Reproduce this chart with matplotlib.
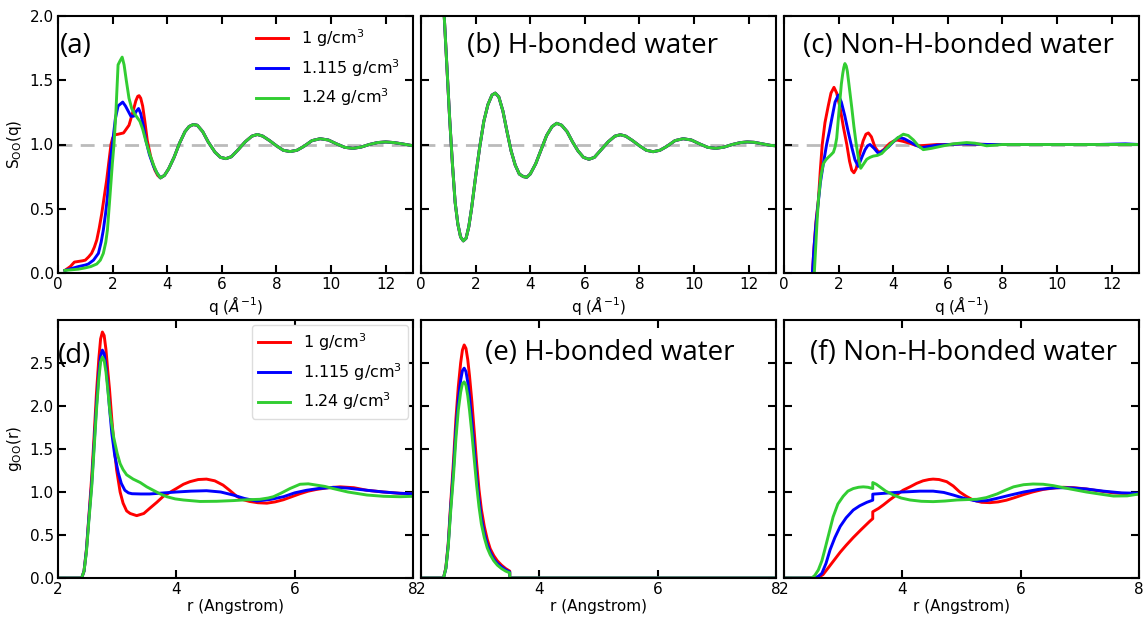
import numpy as np
import matplotlib
matplotlib.use("Agg")
import matplotlib.pyplot as plt

# ---- data ----
labels = ["1 g/cm$^3$", "1.115 g/cm$^3$", "1.24 g/cm$^3$"]
colors = ["red", "blue", "limegreen"]

# (a) total S_OO(q): low-q parts differ, common tail from q = 3.75
a_tail_q = [3.75, 3.9, 4.05, 4.25, 4.45, 4.65, 4.8, 4.95, 5.1, 5.3, 5.5, 5.75, 5.95, 6.15, 6.35,
            6.6, 6.85, 7.1, 7.3, 7.5, 7.75, 8.0, 8.25, 8.5, 8.75, 9.0, 9.3, 9.6, 9.9, 10.2,
            10.5, 10.8, 11.1, 11.4, 11.7, 12.0, 12.3, 12.6, 13.0]
a_tail_s = [0.74, 0.76, 0.81, 0.9, 1.01, 1.1, 1.14, 1.155, 1.15, 1.1, 1.02, 0.94, 0.9, 0.89, 0.905,
            0.96, 1.02, 1.065, 1.078, 1.065, 1.03, 0.99, 0.955, 0.945, 0.955, 0.985, 1.03, 1.045, 1.035, 1.005,
            0.978, 0.97, 0.98, 1.0, 1.015, 1.02, 1.015, 1.005, 0.99]
a_red_q = [0.25, 0.45, 0.6, 0.75, 0.9, 1.0, 1.12, 1.23, 1.33, 1.42, 1.51, 1.6, 1.69, 1.78, 1.86,
           1.94, 2.0, 2.07, 2.2, 2.4, 2.6, 2.75, 2.85, 2.92, 2.97, 3.03, 3.1, 3.18, 3.27, 3.4,
           3.55, 3.65]
a_red_s = [0.02, 0.05, 0.085, 0.09, 0.095, 0.1, 0.125, 0.153, 0.2, 0.257, 0.35, 0.46, 0.59, 0.72, 0.86,
           1.0, 1.05, 1.075, 1.08, 1.09, 1.15, 1.26, 1.34, 1.375, 1.38, 1.36, 1.3, 1.18, 1.03, 0.9,
           0.8, 0.76]
a_blue_q = [0.25, 0.5, 0.75, 1.0, 1.11, 1.3, 1.48, 1.58, 1.66, 1.74, 1.81, 1.9, 1.99, 2.1, 2.2,
            2.37, 2.47, 2.57, 2.67, 2.77, 2.87, 2.95, 3.03, 3.12, 3.22, 3.35, 3.5, 3.62]
a_blue_s = [0.02, 0.035, 0.05, 0.062, 0.07, 0.1, 0.153, 0.24, 0.335, 0.46, 0.59, 0.85, 1.0, 1.2, 1.3,
            1.33, 1.3, 1.26, 1.22, 1.22, 1.26, 1.28, 1.24, 1.15, 1.03, 0.92, 0.83, 0.78]
a_green_q = [0.25, 0.5, 0.75, 1.0, 1.2, 1.42, 1.55, 1.66, 1.75, 1.81, 1.9, 1.99, 2.05, 2.12, 2.2,
             2.27, 2.35, 2.42, 2.5, 2.6, 2.7, 2.8, 2.9, 3.0, 3.1, 3.2, 3.35, 3.5, 3.62]
a_green_s = [0.02, 0.025, 0.03, 0.04, 0.05, 0.07, 0.1, 0.153, 0.24, 0.335, 0.59, 0.85, 1.0, 1.25, 1.62,
             1.65, 1.68, 1.62, 1.5, 1.36, 1.28, 1.24, 1.21, 1.18, 1.12, 1.04, 0.93, 0.84, 0.78]

# (b) H-bonded S_OO(q): the three densities lie on top of each other
b_q = [0.75, 0.85, 0.95, 1.05, 1.15, 1.25, 1.35, 1.45, 1.55, 1.65, 1.75, 1.85, 2.0, 2.15, 2.3,
       2.45, 2.6, 2.72, 2.85, 3.0, 3.15, 3.3, 3.45, 3.6, 3.75, 3.87, 4.0, 4.2, 4.4, 4.6,
       4.8, 4.97, 5.15, 5.35, 5.55, 5.75, 5.95, 6.15, 6.35, 6.6, 6.85, 7.1, 7.3, 7.5, 7.75,
       8.0, 8.25, 8.5, 8.75, 9.0, 9.3, 9.6, 9.9, 10.2, 10.5, 10.8, 11.1, 11.4, 11.7, 11.95,
       12.2, 12.5, 12.8, 13.0]
b_s = [2.4, 2.0, 1.6, 1.2, 0.85, 0.55, 0.38, 0.28, 0.25, 0.27, 0.36, 0.5, 0.75, 0.98, 1.18,
       1.31, 1.385, 1.4, 1.37, 1.26, 1.1, 0.95, 0.84, 0.77, 0.75, 0.745, 0.77, 0.85, 0.96, 1.07,
       1.14, 1.165, 1.15, 1.1, 1.02, 0.95, 0.9, 0.885, 0.9, 0.96, 1.02, 1.065, 1.076, 1.065, 1.03,
       0.99, 0.955, 0.944, 0.955, 0.985, 1.03, 1.045, 1.035, 1.005, 0.978, 0.97, 0.98, 1.0, 1.015, 1.02,
       1.017, 1.005, 0.993, 0.99]

# (c) non-H-bonded S_OO(q)
c_red_q = [1.04, 1.1, 1.17, 1.26, 1.33, 1.4, 1.5, 1.62, 1.72, 1.83, 1.93, 2.05, 2.18, 2.3, 2.4,
           2.48, 2.56, 2.64, 2.72, 2.81, 2.9, 3.0, 3.09, 3.2, 3.33, 3.43, 3.52, 3.65, 3.78, 3.88,
           4.0, 4.13, 4.35, 4.6, 4.8, 4.98, 5.3, 5.6, 6.0, 6.6, 7.5, 8.5, 9.5, 10.5, 11.5, 12.5, 13.0]
c_red_s = [0.0, 0.2, 0.4, 0.57, 0.8, 1.0, 1.17, 1.3, 1.4, 1.445, 1.4, 1.29, 1.13, 1.0, 0.87,
           0.8, 0.78, 0.81, 0.88, 0.96, 1.03, 1.08, 1.09, 1.06, 0.98, 0.95, 0.94, 0.96, 0.99, 1.01,
           1.025, 1.035, 1.025, 1.01, 0.995, 0.99, 0.995, 1.0, 1.0, 1.005, 1.0, 1.0, 1.0, 1.0, 1.0, 1.0, 1.0]
c_blue_q = [1.04, 1.1, 1.17, 1.23, 1.33, 1.44, 1.56, 1.66, 1.75, 1.87, 1.99, 2.1, 2.23, 2.35, 2.48,
            2.6, 2.72, 2.85, 2.97, 3.06, 3.15, 3.3, 3.46, 3.62, 3.82, 4.0, 4.19, 4.4, 4.62, 4.82,
            5.04, 5.3, 5.6, 6.0, 6.6, 7.5, 8.5, 9.5, 10.5, 11.5, 12.5, 13.0]
c_blue_s = [0.0, 0.2, 0.38, 0.5, 0.7, 0.85, 1.0, 1.1, 1.2, 1.33, 1.385, 1.33, 1.22, 1.1, 0.98,
            0.88, 0.83, 0.9, 0.96, 0.99, 1.0, 0.97, 0.93, 0.95, 0.98, 1.02, 1.055, 1.045, 1.02, 0.995,
            0.975, 0.985, 0.995, 1.0, 1.005, 1.0, 1.0, 1.0, 1.0, 1.0, 1.005, 1.0]
c_green_q = [1.11, 1.16, 1.21, 1.26, 1.35, 1.44, 1.53, 1.62, 1.72, 1.81, 1.87, 1.93, 1.99, 2.05, 2.1,
             2.15, 2.19, 2.23, 2.28, 2.32, 2.4, 2.48, 2.56, 2.64, 2.72, 2.81, 2.92, 3.03, 3.15, 3.27,
             3.42, 3.58, 3.76, 3.94, 4.15, 4.37, 4.55, 4.74, 4.92, 5.1, 5.4, 5.84, 6.2, 6.69, 7.0,
             7.42, 8.0, 9.0, 10.0, 11.0, 12.0, 13.0]
c_green_s = [0.0, 0.2, 0.4, 0.57, 0.75, 0.85, 0.88, 0.9, 0.92, 0.94, 0.98, 1.05, 1.2, 1.35, 1.47,
             1.55, 1.6, 1.63, 1.61, 1.57, 1.43, 1.29, 1.14, 1.01, 0.9, 0.815, 0.85, 0.885, 0.9, 0.91,
             0.915, 0.93, 0.97, 1.01, 1.05, 1.08, 1.07, 1.035, 0.99, 0.96, 0.97, 0.99, 1.005, 1.015, 1.01,
             0.99, 1.0, 1.0, 1.0, 1.0, 1.0, 1.0]

# (d) total g_OO(r)
d_red_r = [2.0, 2.4, 2.44, 2.48, 2.52, 2.57, 2.61, 2.65, 2.69, 2.72, 2.75, 2.78, 2.81, 2.84, 2.87,
           2.91, 2.95, 2.99, 3.05, 3.1, 3.16, 3.22, 3.33, 3.45, 3.55, 3.67, 3.78, 3.9, 4.0, 4.12,
           4.23, 4.37, 4.51, 4.65, 4.79, 4.9, 5.02, 5.13, 5.24, 5.38, 5.53, 5.67, 5.81, 5.95, 6.09,
           6.23, 6.37, 6.57, 6.77, 7.0, 7.22, 7.5, 7.78, 8.0]
d_red_g = [0, 0, 0.08, 0.33, 0.7, 1.18, 1.65, 2.15, 2.55, 2.78, 2.86, 2.82, 2.66, 2.42, 2.2,
           1.84, 1.53, 1.26, 1.0, 0.87, 0.78, 0.75, 0.725, 0.75, 0.81, 0.88, 0.95, 1.0, 1.04, 1.09,
           1.12, 1.145, 1.15, 1.13, 1.08, 1.02, 0.95, 0.91, 0.89, 0.875, 0.87, 0.885, 0.91, 0.945, 0.98,
           1.01, 1.03, 1.05, 1.06, 1.05, 1.02, 1.0, 0.985, 0.98]
d_blue_r = [2.0, 2.4, 2.44, 2.48, 2.52, 2.57, 2.61, 2.65, 2.69, 2.72, 2.75, 2.78, 2.81, 2.84, 2.87,
            2.91, 2.96, 3.02, 3.07, 3.13, 3.19, 3.25, 3.4, 3.55, 3.8, 4.0, 4.25, 4.51, 4.75, 4.96,
            5.15, 5.36, 5.6, 5.81, 6.0, 6.2, 6.4, 6.65, 6.9, 7.22, 7.5, 7.78, 8.0]
d_blue_g = [0, 0, 0.08, 0.32, 0.68, 1.1, 1.55, 2.0, 2.38, 2.58, 2.65, 2.61, 2.46, 2.24, 1.98,
            1.68, 1.42, 1.22, 1.1, 1.02, 0.99, 0.98, 0.977, 0.977, 0.99, 1.0, 1.01, 1.015, 1.0, 0.965,
            0.925, 0.895, 0.915, 0.945, 0.99, 1.02, 1.04, 1.054, 1.045, 1.02, 1.0, 0.985, 0.98]
d_green_r = [2.0, 2.4, 2.44, 2.48, 2.52, 2.57, 2.61, 2.65, 2.69, 2.72, 2.75, 2.78, 2.81, 2.84, 2.88,
             2.94, 3.0, 3.05, 3.1, 3.16, 3.27, 3.39, 3.5, 3.61, 3.72, 3.84, 3.98, 4.12, 4.4, 4.68,
             4.96, 5.2, 5.41, 5.55, 5.64, 5.78, 5.92, 6.09, 6.23, 6.37, 6.51, 6.65, 6.9, 7.22, 7.5,
             7.78, 8.0]
d_green_g = [0, 0, 0.08, 0.3, 0.65, 1.06, 1.5, 1.95, 2.32, 2.51, 2.57, 2.53, 2.4, 2.2, 1.92,
             1.64, 1.45, 1.33, 1.26, 1.2, 1.15, 1.11, 1.06, 1.02, 0.98, 0.945, 0.92, 0.907, 0.89, 0.892,
             0.9, 0.91, 0.915, 0.93, 0.945, 0.99, 1.04, 1.09, 1.095, 1.08, 1.065, 1.04, 1.0, 0.965, 0.95,
             0.945, 0.95]

# (e) H-bonded g_OO(r), cut at r = 3.5
e_r = [2.0, 2.38, 2.42, 2.46, 2.5, 2.55, 2.59, 2.63, 2.67, 2.7, 2.73, 2.76, 2.79, 2.82, 2.86,
       2.9, 2.94, 2.98, 3.02, 3.07, 3.12, 3.17, 3.23, 3.29, 3.36, 3.43, 3.5, 3.5, 8.0]
e_red_g = [0, 0, 0.12, 0.4, 0.85, 1.37, 1.85, 2.22, 2.5, 2.65, 2.71, 2.67, 2.54, 2.35, 2.05,
           1.7, 1.34, 1.03, 0.8, 0.6, 0.45, 0.34, 0.26, 0.2, 0.15, 0.11, 0.08, 0, 0]
e_blue_g = [0, 0, 0.11, 0.38, 0.8, 1.28, 1.72, 2.07, 2.3, 2.41, 2.44, 2.4, 2.28, 2.1, 1.82,
            1.5, 1.18, 0.91, 0.7, 0.52, 0.39, 0.3, 0.22, 0.17, 0.13, 0.095, 0.07, 0, 0]
e_green_g = [0, 0, 0.11, 0.36, 0.76, 1.2, 1.62, 1.95, 2.16, 2.26, 2.28, 2.24, 2.12, 1.95, 1.68,
             1.38, 1.08, 0.83, 0.63, 0.47, 0.35, 0.27, 0.2, 0.15, 0.11, 0.08, 0.06, 0, 0]

# (f) non-H-bonded g_OO(r)
f_red_r = [2.0, 2.55, 2.6, 2.66, 2.75, 2.85, 2.95, 3.05, 3.17, 3.3, 3.45, 3.5, 3.5, 3.6, 3.68,
           3.79, 3.9, 4.01, 4.13, 4.24, 4.35, 4.45, 4.52, 4.62, 4.75, 4.86, 4.97, 5.08, 5.2, 5.34,
           5.48, 5.62, 5.76, 5.9, 6.05, 6.2, 6.38, 6.55, 6.72, 6.9, 7.11, 7.35, 7.57, 7.8, 8.0]
f_red_g = [0, 0, 0.015, 0.04, 0.12, 0.21, 0.3, 0.38, 0.47, 0.56, 0.66, 0.69, 0.77, 0.81, 0.85,
           0.91, 0.965, 1.02, 1.06, 1.1, 1.13, 1.145, 1.15, 1.145, 1.12, 1.07, 1.0, 0.95, 0.905, 0.88,
           0.876, 0.885, 0.905, 0.935, 0.97, 1.0, 1.03, 1.045, 1.055, 1.05, 1.035, 1.01, 0.99, 0.98, 0.977]
f_blue_r = [2.0, 2.52, 2.58, 2.64, 2.71, 2.78, 2.86, 2.95, 3.05, 3.17, 3.28, 3.4, 3.5, 3.5, 3.6,
            3.79, 4.0, 4.13, 4.3, 4.52, 4.7, 4.86, 5.05, 5.26, 5.43, 5.6, 5.8, 6.05, 6.3, 6.6,
            6.85, 7.11, 7.4, 7.7, 8.0]
f_blue_g = [0, 0, 0.02, 0.054, 0.17, 0.33, 0.47, 0.6, 0.7, 0.79, 0.84, 0.88, 0.905, 0.975, 0.98,
            0.99, 1.0, 1.004, 1.01, 1.01, 0.995, 0.965, 0.925, 0.895, 0.9, 0.926, 0.96, 1.0, 1.03, 1.05,
            1.048, 1.035, 1.01, 0.99, 0.985]
f_green_r = [2.0, 2.47, 2.52, 2.58, 2.64, 2.69, 2.76, 2.83, 2.91, 3.0, 3.08, 3.17, 3.26, 3.34, 3.42,
             3.5, 3.5, 3.56, 3.62, 3.72, 3.85, 3.98, 4.13, 4.32, 4.52, 4.72, 4.92, 5.1, 5.26, 5.42,
             5.6, 5.74, 5.88, 6.05, 6.21, 6.38, 6.55, 6.8, 7.11, 7.35, 7.57, 7.8, 8.0]
f_green_g = [0, 0, 0.03, 0.093, 0.2, 0.33, 0.52, 0.71, 0.86, 0.95, 1.01, 1.04, 1.055, 1.06, 1.055,
             1.04, 1.11, 1.09, 1.06, 1.01, 0.965, 0.93, 0.907, 0.892, 0.888, 0.895, 0.907, 0.912, 0.915, 0.935,
             0.977, 1.02, 1.06, 1.085, 1.093, 1.09, 1.074, 1.04, 1.0, 0.975, 0.953, 0.955, 0.977]

# ---- figure ----
plt.rcParams['font.family'] = 'DejaVu Sans'
fig = plt.figure(figsize=(11.44, 6.18), dpi=100)

W, H = 1144.0, 618.0
lefts = [58, 421, 784]
wid = 355
top_row = (273, 257)
bot_row = (578, 258)

axs_top = [fig.add_axes([l / W, (H - top_row[0]) / H, wid / W, top_row[1] / H]) for l in lefts]
axs_bot = [fig.add_axes([l / W, (H - bot_row[0]) / H, wid / W, bot_row[1] / H]) for l in lefts]

lw = 2.1

# top row
a_series = [(a_red_q + a_tail_q, a_red_s + a_tail_s),
            (a_blue_q + a_tail_q, a_blue_s + a_tail_s),
            (a_green_q + a_tail_q, a_green_s + a_tail_s)]
c_series = [(c_red_q, c_red_s), (c_blue_q, c_blue_s), (c_green_q, c_green_s)]

for ax in axs_top:
    ax.axhline(1.0, color='#bbbbbb', lw=2, ls=(0, (5, 3)), zorder=1)

for (x, y), col, lab in zip(a_series, colors, labels):
    axs_top[0].plot(x, y, color=col, lw=lw, label=lab)
for col in colors:
    axs_top[1].plot(b_q, b_s, color=col, lw=lw)
for (x, y), col in zip(c_series, colors):
    axs_top[2].plot(x, y, color=col, lw=lw)

# bottom row
d_series = [(d_red_r, d_red_g), (d_blue_r, d_blue_g), (d_green_r, d_green_g)]
e_series = [(e_r, e_red_g), (e_r, e_blue_g), (e_r, e_green_g)]
f_series = [(f_red_r, f_red_g), (f_blue_r, f_blue_g), (f_green_r, f_green_g)]
for (x, y), col, lab in zip(d_series, colors, labels):
    axs_bot[0].plot(x, y, color=col, lw=lw, label=lab)
for (x, y), col in zip(e_series, colors):
    axs_bot[1].plot(x, y, color=col, lw=lw)
for (x, y), col in zip(f_series, colors):
    axs_bot[2].plot(x, y, color=col, lw=lw)

for ax in axs_top:
    ax.set_xlim(0, 13)
    ax.set_ylim(0, 2.0)
    ax.set_xticks([0, 2, 4, 6, 8, 10, 12])
    ax.set_yticks([0, 0.5, 1.0, 1.5, 2.0])
    ax.set_xlabel(r'q ($\AA^{-1}$)', fontsize=11, labelpad=1)
for ax in axs_bot:
    ax.set_xlim(2, 8)
    ax.set_ylim(0, 3.0)
    ax.set_xticks([2, 4, 6, 8])
    ax.set_yticks([0, 0.5, 1.0, 1.5, 2.0, 2.5])
    ax.set_xlabel('r (Angstrom)', fontsize=11, labelpad=1)

for ax in axs_top + axs_bot:
    ax.tick_params(direction='in', top=True, right=True, length=6, width=1.5,
                   labelsize=11, pad=3)
    for sp in ax.spines.values():
        sp.set_linewidth(1.5)
for ax in axs_top[1:] + axs_bot[1:]:
    ax.tick_params(labelleft=False)

axs_top[0].yaxis.set_major_formatter(plt.FormatStrFormatter('%.1f'))
axs_bot[0].yaxis.set_major_formatter(plt.FormatStrFormatter('%.1f'))
axs_top[0].set_ylabel(r'S$_{\rm OO}$(q)', fontsize=11)
axs_bot[0].set_ylabel(r'g$_{\rm OO}$(r)', fontsize=11)

axs_top[0].legend(loc='upper right', frameon=False, fontsize=11.5, handlelength=2.0,
                  borderaxespad=0.3, bbox_to_anchor=(0.995, 1.0))
axs_bot[0].legend(loc='upper right', frameon=True, fontsize=11.5, handlelength=2.0,
                  borderaxespad=0.3, edgecolor='#dddddd', framealpha=1.0)

panel_font = 'Open Sans'
tags = [(axs_top[0], 0.005, 0.856, '(a)'),
        (axs_top[1], 0.13, 0.856, '(b) H-bonded water'),
        (axs_top[2], 0.054, 0.856, '(c) Non-H-bonded water'),
        (axs_bot[0], 0.0, 0.835, '(d)'),
        (axs_bot[1], 0.18, 0.845, '(e) H-bonded water'),
        (axs_bot[2], 0.073, 0.845, '(f) Non-H-bonded water')]
for ax, x, y, t in tags:
    ax.text(x, y, t, transform=ax.transAxes, fontsize=20, family=panel_font,
            ha='left', va='baseline', zorder=5)

fig.savefig('out.png', dpi=100)
